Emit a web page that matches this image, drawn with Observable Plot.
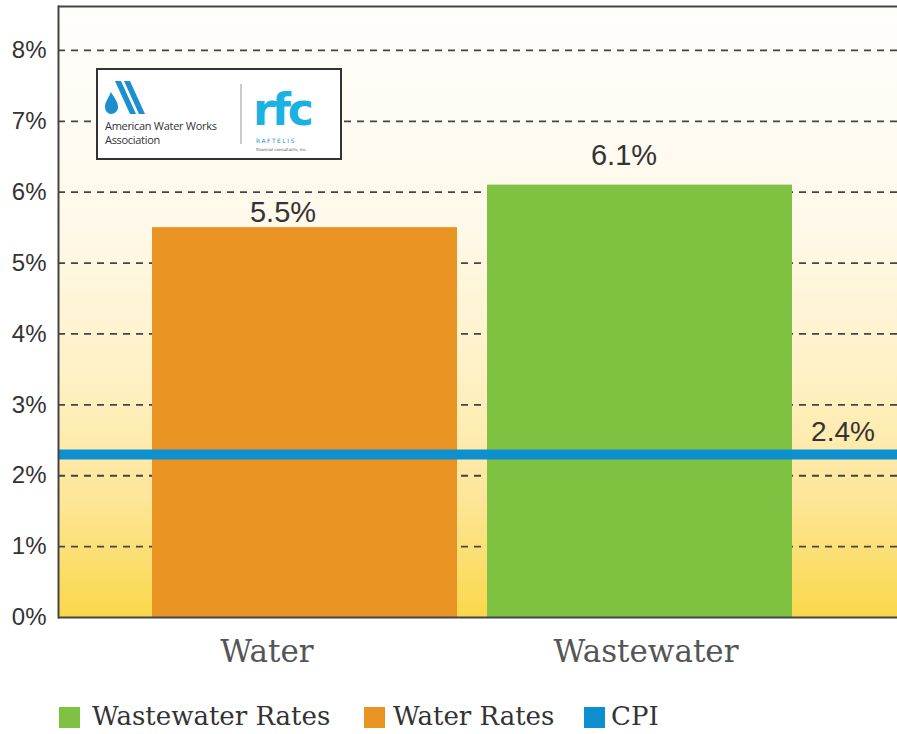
<!DOCTYPE html>
<html>
<head>
<meta charset="utf-8">
<script src="https://cdn.jsdelivr.net/npm/d3@7"></script>
<script src="https://cdn.jsdelivr.net/npm/@observablehq/plot@0.6"></script>
<style>
  html, body { margin: 0; padding: 0; background: #ffffff; }
  #wrap { position: relative; width: 897px; height: 734px; overflow: hidden; }
  #logo { position: absolute; left: 96px; top: 68px; width: 242px; height: 88px; border: 2px solid #333; background: #fff; box-sizing: content-box; }
  #legend { position: absolute; left: 0; top: 690px; width: 897px; height: 44px; font-family: "DejaVu Serif", serif; color: #333; }
  .sw { position: absolute; top: 17px; width: 21px; height: 21px; }
  .lt { position: absolute; top: 10px; font-size: 26px; line-height: 32px; white-space: nowrap; }
</style>
</head>
<body>
<div id="wrap">
  <div id="chart"></div>
  <div id="logo">
    <svg width="242" height="88" style="position:absolute;left:0;top:0">
      <!-- AWWA mark -->
      <path d="M13,22 C10,29 7,32 7,37 C7,41 10,44 13,44 C17,44 20,41 20,37 C20,32 17,29 13,22 Z" fill="#1b8fcf"/>
      <path d="M17,11 L23,11 L38,44 L32,44 Z" fill="#1b8fcf"/>
      <path d="M26,11 L32,11 L47,44 L41,44 Z" fill="#1b8fcf"/>
      <text x="7" y="60" font-family="Open Sans, sans-serif" font-size="11" fill="#333" letter-spacing="-0.3">American Water Works</text>
      <text x="7" y="74" font-family="Open Sans, sans-serif" font-size="11" fill="#333" letter-spacing="-0.3">Association</text>
      <line x1="143" y1="14" x2="143" y2="74" stroke="#999" stroke-width="1"/>
      <text x="155" y="55" font-family="DejaVu Sans, sans-serif" font-weight="bold" font-size="44" fill="#1ab2e3" letter-spacing="-3">rfc</text>
      <text x="158" y="73" font-family="DejaVu Sans, sans-serif" font-size="6" fill="#1b8fcf" letter-spacing="1.5">RAFTELIS</text>
      <text x="158" y="81" font-family="DejaVu Sans, sans-serif" font-size="4" fill="#555">financial consultants, inc.</text>
    </svg>
  </div>
  <div id="legend"></div>
</div>
<script>
// ---- data ----
const categories = ["Water", "Wastewater"];
const rateValues = [5.5, 6.1];
const rateLabels = ["5.5%", "6.1%"];
const cpiValue = 2.3;          // drawn position of CPI line
const cpiLabel = "2.4%";
const yTicks = [0, 1, 2, 3, 4, 5, 6, 7, 8];
const gridTicks = [1, 2, 3, 4, 5, 6, 7, 8];
const yTop = 8.62;
const legendLabels = ["Wastewater Rates", "Water Rates", "CPI"];
const barColors = ["#e99322", "#7fc242"];
const cpiColor = "#0e90d0";
const legendColors = ["#7fc242", "#e99322", "#0e90d0"];

const bars = categories.map((c, i) => ({category: c, value: rateValues[i], label: rateLabels[i]}));
const cpi = [{value: cpiValue, label: cpiLabel, anchor: categories[1]}];

const defsMark = () => {
  const defs = d3.create("svg:defs");
  const g = defs.append("linearGradient").attr("id", "bgGrad")
    .attr("x1", 0).attr("y1", 0).attr("x2", 0).attr("y2", 1);
  [[0, "#fffefc"], [0.35, "#fef9ea"], [0.6, "#fef1c6"], [0.8, "#fde69a"], [1, "#fad84a"]]
    .forEach(([o, c]) => g.append("stop").attr("offset", o).attr("stop-color", c));
  return defs.node();
};

const labelStyle = {x: "category", y: "value", text: "label", lineAnchor: "bottom", fontSize: 29, fill: "#333"};
const xAxisStyle = {tickSize: 0, tickPadding: 22, fontSize: 31, fill: "#555", fontFamily: "DejaVu Serif, serif", label: null};

const chart = Plot.plot({
  width: 897,
  height: 690,
  marginLeft: 58,
  marginRight: 0,
  marginTop: 6,
  marginBottom: 73,
  style: {background: "transparent", fontFamily: "Liberation Sans, sans-serif"},
  x: {type: "band", domain: categories, range: [58, 885], paddingInner: 0.09, paddingOuter: 0.277, label: null},
  y: {domain: [0, yTop], label: null},
  color: {domain: categories, range: barColors},
  marks: [
    defsMark,
    Plot.frame({fill: "url(#bgGrad)", stroke: null}),
    Plot.ruleY(gridTicks, {stroke: "#444", strokeWidth: 1.8, strokeDasharray: "7,6"}),
    Plot.barY(bars, {x: "category", y: "value", fill: "category"}),
    Plot.ruleY([cpiValue], {stroke: cpiColor, strokeWidth: 10}),
    Plot.ruleY([0], {stroke: "#444", strokeWidth: 2}),
    Plot.ruleY([yTop], {stroke: "#444", strokeWidth: 2}),
    Plot.frame({anchor: "left", stroke: "#444", strokeWidth: 2}),
    Plot.text(bars.slice(0, 1), {...labelStyle, dx: -22, dy: -6}),
    Plot.text(bars.slice(1, 2), {...labelStyle, dx: -16, dy: -20}),
    Plot.text(cpi, {x: "anchor", y: "value", text: "label", dx: 203, dy: -13, lineAnchor: "bottom", fontSize: 28, fill: "#333"}),
    Plot.axisY(yTicks, {tickSize: 0, tickPadding: 12, tickFormat: d => d + "%", fontSize: 24, fill: "#333", label: null}),
    Plot.axisX([categories[0]], {...xAxisStyle, dx: -38}),
    Plot.axisX([categories[1]], {...xAxisStyle, dx: 6})
  ]
});
document.getElementById("chart").appendChild(chart);

// legend
const legend = d3.select("#legend");
const swX = [59, 364, 584];
const txX = [92, 393, 611];
legendLabels.forEach((l, i) => {
  legend.append("div").attr("class", "sw").style("left", swX[i] + "px").style("background", legendColors[i]);
  legend.append("div").attr("class", "lt").style("left", txX[i] + "px").text(l);
});
</script>
</body>
</html>
